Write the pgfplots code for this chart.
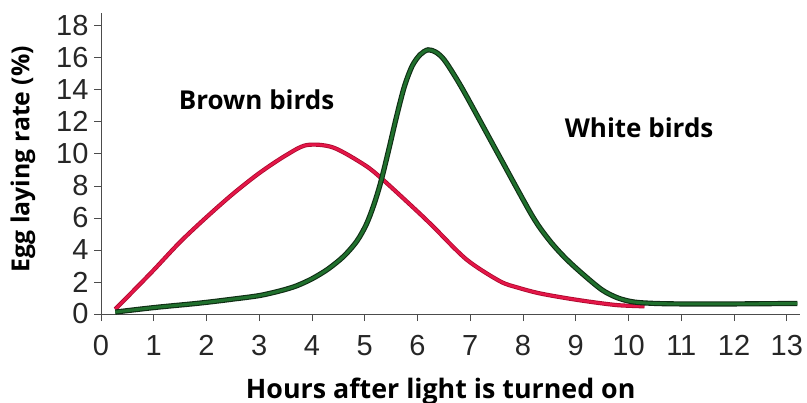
\documentclass[border=0pt]{standalone}
\usepackage{pgfplots}
\pgfplotsset{compat=1.18}
\usepackage{fontspec}
\setmainfont{Open Sans}
\newfontfamily\tickfont{Liberation Sans}
\definecolor{brownc}{RGB}{228,22,72}
\definecolor{brownedge}{RGB}{170,10,45}
\definecolor{whitec}{RGB}{32,112,45}
\definecolor{whiteedge}{RGB}{15,45,20}
\begin{document}
\begin{tikzpicture}
\path[use as bounding box] (0,0) rectangle (807bp,403bp);
\begin{axis}[
  at={(101bp,89bp)}, anchor=south west,
  scale only axis, width=699bp, height=301bp,
  xmin=0, xmax=13.25, ymin=0, ymax=18.8,
  axis x line=bottom, axis y line=left,
  axis line style={-, black!70, line width=0.8bp},
  xtick={0,...,13}, ytick={0,2,...,18},
  tick style={black!70, line width=0.8bp},
  tick align=outside, major tick length=7bp,
  /pgf/number format/assume math mode=true,
  ticklabel style={font=\tickfont\fontsize{29bp}{29bp}\selectfont, text=black!85},
  xticklabel style={yshift=-11bp},
  yticklabel style={xshift=-2bp},
  xlabel={Hours after light is turned on},
  ylabel={Egg laying rate (\%)},
  xlabel style={font=\bfseries\fontsize{26.8bp}{30bp}\selectfont, at={(axis description cs:0.486,0)}, anchor=base, yshift=-84bp},
  ylabel style={font=\bfseries\fontsize{24.8bp}{28bp}\selectfont, at={(axis description cs:-0.1116,0.515)}, anchor=center},
  clip=false,
]
\pgfplotsset{every axis plot/.append style={smooth, tension=0.5}}
\addplot[brownedge, line width=4.2bp] coordinates {
(0.27,0.3)(0.6,1.4)(1,2.75)(1.5,4.5)(2,6.05)(2.5,7.5)(3,8.8)(3.5,9.9)(3.9,10.55)(4.4,10.4)(5,9.3)(5.34,8.4)(6,6.4)(6.3,5.45)(6.93,3.4)(7.56,2.05)(7.9,1.65)(8.3,1.3)(8.8,1.0)(9.3,0.75)(9.8,0.55)(10.3,0.48)};
\addplot[brownc, line width=2.6bp] coordinates {
(0.27,0.3)(0.6,1.4)(1,2.75)(1.5,4.5)(2,6.05)(2.5,7.5)(3,8.8)(3.5,9.9)(3.9,10.55)(4.4,10.4)(5,9.3)(5.34,8.4)(6,6.4)(6.3,5.45)(6.93,3.4)(7.56,2.05)(7.9,1.65)(8.3,1.3)(8.8,1.0)(9.3,0.75)(9.8,0.55)(10.3,0.48)};
\addplot[whiteedge, line width=5.2bp] coordinates {
(0.27,0.12)(1,0.4)(1.87,0.68)(2.5,0.93)(3,1.15)(3.4,1.45)(3.7,1.75)(4.0,2.2)(4.3,2.8)(4.6,3.6)(4.85,4.55)(5.03,5.6)(5.17,6.8)(5.3,8.2)(5.45,10.2)(5.6,12.3)(5.75,14.2)(5.9,15.5)(6.05,16.2)(6.2,16.5)(6.35,16.35)(6.5,15.9)(6.7,14.9)(6.93,13.6)(7.56,9.8)(8.18,6.1)(8.5,4.6)(8.8,3.5)(9.13,2.5)(9.5,1.5)(9.8,1.0)(10.1,0.75)(10.5,0.66)(11,0.63)(12,0.63)(13.2,0.66)};
\addplot[whitec, line width=3.0bp] coordinates {
(0.27,0.12)(1,0.4)(1.87,0.68)(2.5,0.93)(3,1.15)(3.4,1.45)(3.7,1.75)(4.0,2.2)(4.3,2.8)(4.6,3.6)(4.85,4.55)(5.03,5.6)(5.17,6.8)(5.3,8.2)(5.45,10.2)(5.6,12.3)(5.75,14.2)(5.9,15.5)(6.05,16.2)(6.2,16.5)(6.35,16.35)(6.5,15.9)(6.7,14.9)(6.93,13.6)(7.56,9.8)(8.18,6.1)(8.5,4.6)(8.8,3.5)(9.13,2.5)(9.5,1.5)(9.8,1.0)(10.1,0.75)(10.5,0.66)(11,0.63)(12,0.63)(13.2,0.66)};
\node[anchor=base, font=\bfseries\fontsize{26bp}{30bp}\selectfont] at (axis cs:2.95,12.8) {Brown birds};
\node[anchor=base, font=\bfseries\fontsize{26bp}{30bp}\selectfont] at (axis cs:10.2,11.0) {White birds};
\end{axis}
\end{tikzpicture}
\end{document}
